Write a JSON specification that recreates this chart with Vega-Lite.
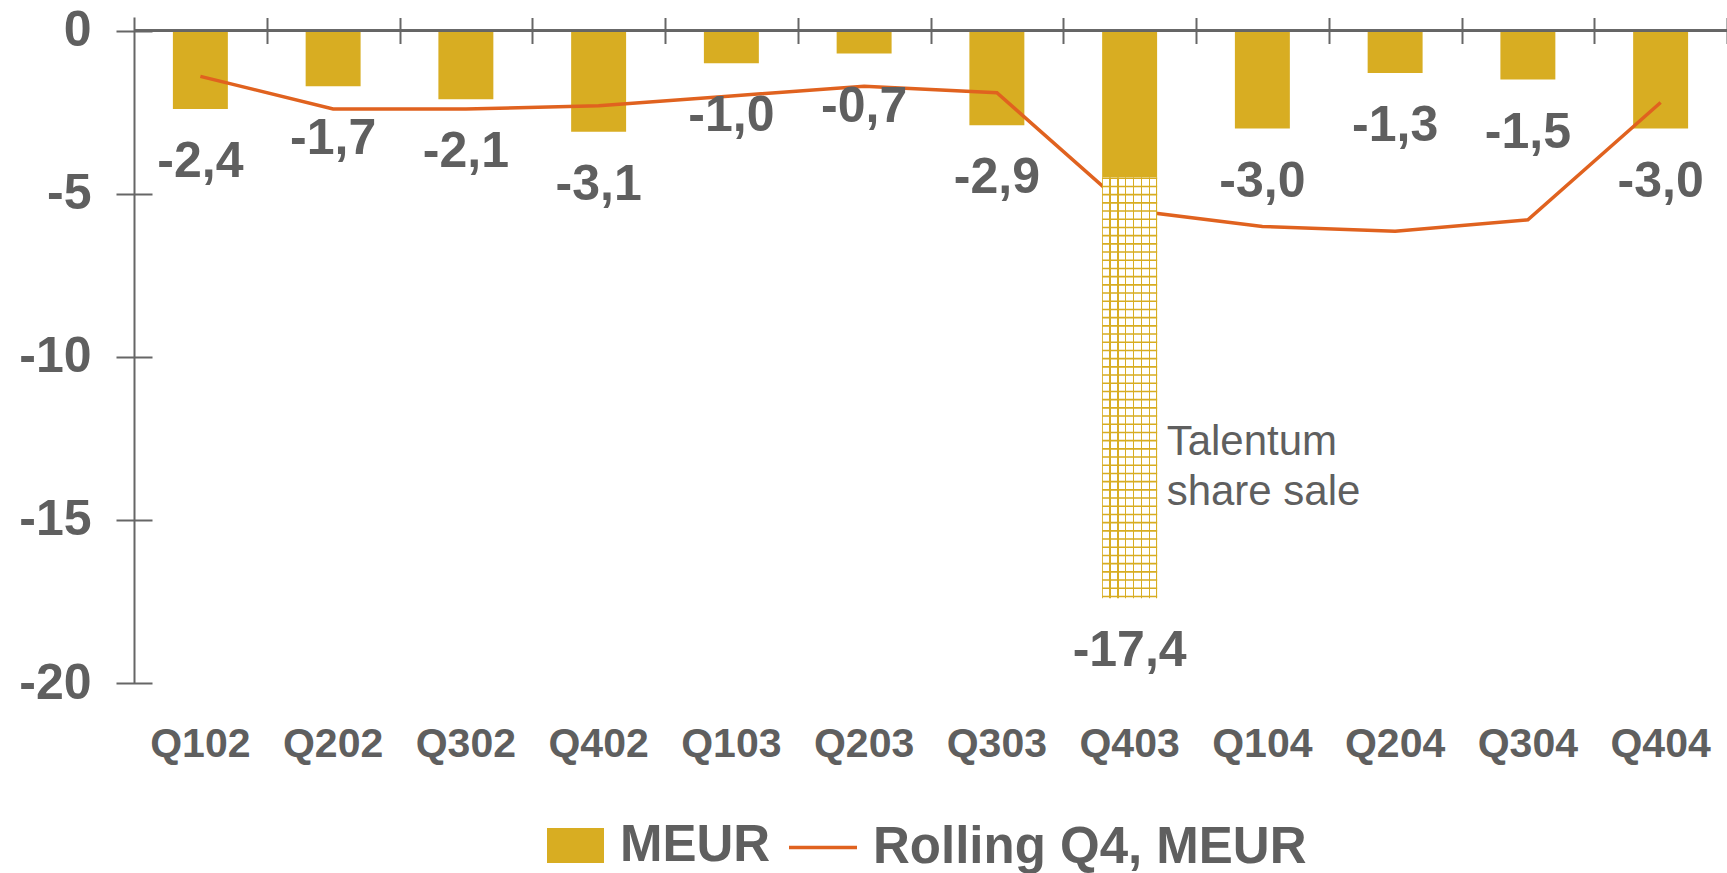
{
  "$schema": "https://vega.github.io/schema/vega-lite/v6.json",
  "width": 1593,
  "height": 666,
  "autosize": {"type": "none"},
  "padding": {"left": 134, "top": 17, "right": 0, "bottom": 190},
  "background": "white",
  "config": {
    "view": {"stroke": null},
    "font": "Liberation Sans",
    "axis": {"grid": false}
  },
  "datasets": {
    "main": [
      {"q": "Q102", "meur": -2.4, "core": -2.4, "rolling": -1.4, "label": "-2,4"},
      {"q": "Q202", "meur": -1.7, "core": -1.7, "rolling": -2.4, "label": "-1,7"},
      {"q": "Q302", "meur": -2.1, "core": -2.1, "rolling": -2.4, "label": "-2,1"},
      {"q": "Q402", "meur": -3.1, "core": -3.1, "rolling": -2.3, "label": "-3,1"},
      {"q": "Q103", "meur": -1.0, "core": -1.0, "rolling": -2.0, "label": "-1,0"},
      {"q": "Q203", "meur": -0.7, "core": -0.7, "rolling": -1.7, "label": "-0,7"},
      {"q": "Q303", "meur": -2.9, "core": -2.9, "rolling": -1.9, "label": "-2,9"},
      {"q": "Q403", "meur": -17.4, "core": -4.5, "rolling": -5.5, "label": "-17,4", "note": "Talentum\nshare sale"},
      {"q": "Q104", "meur": -3.0, "core": -3.0, "rolling": -6.0, "label": "-3,0"},
      {"q": "Q204", "meur": -1.3, "core": -1.3, "rolling": -6.15, "label": "-1,3"},
      {"q": "Q304", "meur": -1.5, "core": -1.5, "rolling": -5.8, "label": "-1,5"},
      {"q": "Q404", "meur": -3.0, "core": -3.0, "rolling": -2.2, "label": "-3,0"}
    ]
  },
  "data": {"name": "main"},
  "resolve": {"axis": {"x": "independent", "y": "independent"}},
  "layer": [
    {
      "mark": {"type": "bar"},
      "encoding": {
        "x": {
          "field": "q", "type": "nominal", "sort": null,
          "scale": {"paddingInner": 0.586, "paddingOuter": 0.293},
          "axis": {
            "orient": "bottom", "title": null, "domain": false, "ticks": false,
            "labelAngle": 0, "labelFont": "Liberation Sans", "labelFontWeight": "bold",
            "labelFontSize": 41, "labelColor": "#5f5f5f", "labelPadding": 73,
            "labelBaseline": "alphabetic"
          }
        },
        "y": {
          "field": "core", "type": "quantitative",
          "scale": {"domain": [-20, 0.42], "nice": false, "zero": false},
          "axis": {
            "orient": "left", "title": null, "domain": true, "domainColor": "#666666",
            "domainWidth": 2, "ticks": false, "labels": false, "offset": 0
          }
        },
        "fill": {
          "datum": "MEUR", "type": "nominal",
          "scale": {"range": ["#D8AD22"]},
          "legend": {
            "orient": "none", "legendX": 413, "legendY": 800, "title": null, "padding": 0,
            "symbolType": "M-1,-0.614H1V0.614H-1Z", "symbolSize": 3249,
            "symbolStrokeWidth": 0, "symbolOpacity": 1, "labelLimit": 0,
            "labelFont": "Liberation Sans", "labelFontWeight": "bold", "labelFontSize": 51,
            "labelColor": "#5f5f5f", "labelOffset": 16
          }
        }
      }
    },
    {
      "mark": {"type": "line", "strokeWidth": 3.5},
      "encoding": {
        "x": {
          "field": "q", "type": "nominal", "sort": null,
          "axis": {
            "orient": "top", "title": null, "domain": false, "labels": false,
            "ticks": true, "tickSize": 26, "tickWidth": 2, "tickColor": "#666666",
            "bandPosition": 1, "tickOffset": 38.9, "offset": -26.5
          }
        },
        "y": {
          "field": "rolling", "type": "quantitative",
          "scale": {"domain": [-20, 0.42], "nice": false, "zero": false},
          "axis": {
            "orient": "left", "title": null, "domain": false, "offset": -18,
            "values": [0, -5, -10, -15, -20], "ticks": true, "tickSize": 36,
            "tickWidth": 2, "tickColor": "#666666",
            "labelFont": "Liberation Sans", "labelFontWeight": "bold", "labelFontSize": 50,
            "labelColor": "#5f5f5f", "labelPadding": 25,
            "labelExpr": "'' + datum.value"
          }
        },
        "stroke": {
          "datum": "Rolling Q4, MEUR", "type": "nominal",
          "scale": {"range": ["#E0621F"]},
          "legend": {
            "orient": "none", "legendX": 653, "legendY": 794.5, "title": null, "padding": 0,
            "symbolType": "stroke", "symbolSize": 4624, "symbolStrokeWidth": 3.5,
            "labelLimit": 0,
            "labelFont": "Liberation Sans", "labelFontWeight": "bold", "labelFontSize": 51,
            "labelColor": "#5f5f5f", "labelOffset": 14
          }
        }
      }
    },
    {
      "mark": {"type": "rule", "color": "#666666", "strokeWidth": 2},
      "encoding": {
        "y": {"datum": 0, "type": "quantitative", "scale": {"domain": [-20, 0.42], "nice": false, "zero": false}, "axis": null}
      }
    },
    {
      "transform": [{"filter": "datum.q == 'Q403'"}],
      "mark": {
        "type": "bar",
        "fill": {
          "gradient": "linear", "x1": 0, "x2": 1, "y1": 0, "y2": 0,
          "stops": [
            {"offset": 0, "color": "#D8AD22"}, {"offset": 0.022, "color": "#D8AD22"}, {"offset": 0.022, "color": "#ffffff"},
            {"offset": 0.131, "color": "#ffffff"}, {"offset": 0.131, "color": "#D8AD22"}, {"offset": 0.155, "color": "#D8AD22"}, {"offset": 0.155, "color": "#ffffff"},
            {"offset": 0.274, "color": "#ffffff"}, {"offset": 0.274, "color": "#D8AD22"}, {"offset": 0.298, "color": "#D8AD22"}, {"offset": 0.298, "color": "#ffffff"},
            {"offset": 0.417, "color": "#ffffff"}, {"offset": 0.417, "color": "#D8AD22"}, {"offset": 0.441, "color": "#D8AD22"}, {"offset": 0.441, "color": "#ffffff"},
            {"offset": 0.559, "color": "#ffffff"}, {"offset": 0.559, "color": "#D8AD22"}, {"offset": 0.583, "color": "#D8AD22"}, {"offset": 0.583, "color": "#ffffff"},
            {"offset": 0.702, "color": "#ffffff"}, {"offset": 0.702, "color": "#D8AD22"}, {"offset": 0.726, "color": "#D8AD22"}, {"offset": 0.726, "color": "#ffffff"},
            {"offset": 0.845, "color": "#ffffff"}, {"offset": 0.845, "color": "#D8AD22"}, {"offset": 0.869, "color": "#D8AD22"}, {"offset": 0.869, "color": "#ffffff"},
            {"offset": 0.978, "color": "#ffffff"}, {"offset": 0.978, "color": "#D8AD22"}, {"offset": 1, "color": "#D8AD22"}
          ]
        }
      },
      "encoding": {
        "x": {"field": "q", "type": "nominal", "sort": null, "axis": null},
        "y": {"field": "core", "type": "quantitative", "scale": {"domain": [-20, 0.42], "nice": false, "zero": false}, "axis": null},
        "y2": {"field": "meur"}
      }
    },
    {
      "transform": [{"filter": "datum.q == 'Q403'"}],
      "mark": {"type": "rule", "color": "#D8AD22", "strokeWidth": 55, "strokeDash": [1.6, 6.6], "strokeCap": "butt"},
      "encoding": {
        "x": {"field": "q", "type": "nominal", "sort": null, "axis": null},
        "y": {"field": "core", "type": "quantitative", "scale": {"domain": [-20, 0.42], "nice": false, "zero": false}, "axis": null},
        "y2": {"field": "meur"}
      }
    },
    {
      "mark": {"type": "text", "font": "Liberation Sans", "fontWeight": "bold", "fontSize": 50, "color": "#5f5f5f", "baseline": "alphabetic", "align": "center", "dy": 68},
      "encoding": {
        "x": {"field": "q", "type": "nominal", "sort": null, "axis": null},
        "y": {"field": "meur", "type": "quantitative", "scale": {"domain": [-20, 0.42], "nice": false, "zero": false}, "axis": null},
        "text": {"field": "label"}
      }
    },
    {
      "transform": [{"filter": "datum.q == 'Q403'"}],
      "mark": {"type": "text", "font": "Liberation Sans", "fontSize": 42, "color": "#5f5f5f", "baseline": "alphabetic", "align": "left", "dx": 37, "lineHeight": 50, "lineBreak": "\n"},
      "encoding": {
        "x": {"field": "q", "type": "nominal", "sort": null, "axis": null},
        "y": {"datum": -13.0, "type": "quantitative", "scale": {"domain": [-20, 0.42], "nice": false, "zero": false}, "axis": null},
        "text": {"field": "note"}
      }
    }
  ]
}
